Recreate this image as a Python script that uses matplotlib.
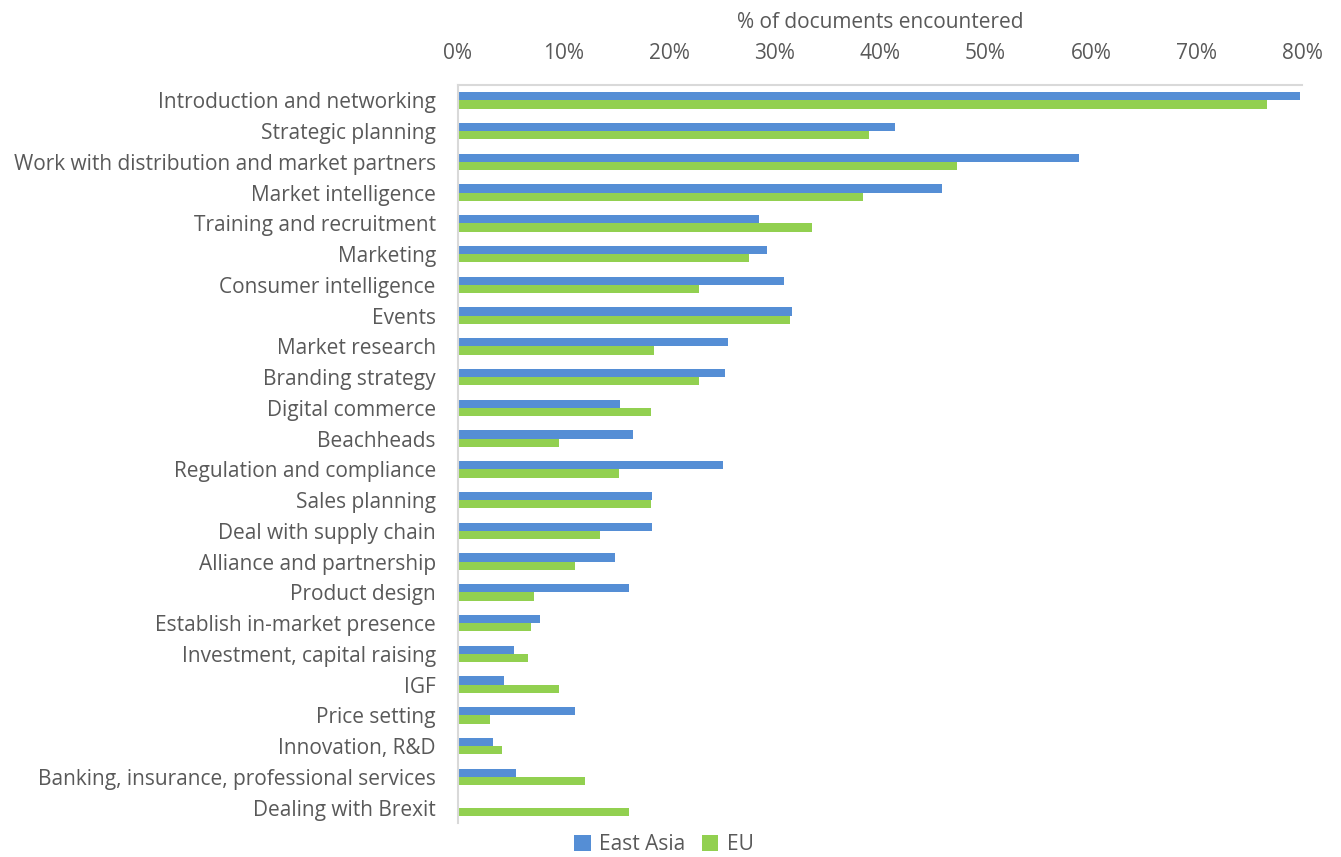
import matplotlib
matplotlib.use("Agg")
import matplotlib.pyplot as plt
import numpy as np
from matplotlib.ticker import PercentFormatter

categories = [
    "Introduction and networking", "Strategic planning",
    "Work with distribution and market partners", "Market intelligence",
    "Training and recruitment", "Marketing", "Consumer intelligence", "Events",
    "Market research", "Branding strategy", "Digital commerce", "Beachheads",
    "Regulation and compliance", "Sales planning", "Deal with supply chain",
    "Alliance and partnership", "Product design", "Establish in-market presence",
    "Investment, capital raising", "IGF", "Price setting", "Innovation, R&D",
    "Banking, insurance, professional services", "Dealing with Brexit",
]
east_asia = [79.8, 41.4, 58.9, 45.9, 28.5, 29.3, 30.9, 31.7, 25.6, 25.3, 15.4, 16.6,
             25.1, 18.4, 18.4, 14.9, 16.2, 7.8, 5.3, 4.4, 11.1, 3.3, 5.5, 0.0]
eu = [76.7, 39.0, 47.3, 38.4, 33.6, 27.6, 22.8, 31.5, 18.6, 22.8, 18.3, 9.6,
      15.3, 18.3, 13.5, 11.1, 7.2, 6.9, 6.6, 9.6, 3.0, 4.2, 12.0, 16.2]
xticks = [0, 10, 20, 30, 40, 50, 60, 70, 80]
series_names = ["East Asia", "EU"]

plt.rcParams['font.family'] = ['Open Sans', 'DejaVu Sans']
text_color = "#595959"
fs = 15

fig = plt.figure(figsize=(13.41, 8.57), dpi=100)
ax = fig.add_axes([458/1341, 1 - 823/857, (1302-458)/1341, (823-85)/857])

y = np.arange(len(categories))
h = 0.27
ax.barh(y - h/2, east_asia, height=h, color="#558ED5", label=series_names[0])
ax.barh(y + h/2, eu, height=h, color="#92D050", label=series_names[1])

ax.set_ylim(len(categories) - 0.5, -0.5)
ax.set_xlim(0, 80)
ax.set_yticks(y)
ax.set_yticklabels(categories, fontsize=fs, color=text_color)
ax.set_xticks(xticks)
ax.xaxis.set_major_formatter(PercentFormatter(decimals=0))
ax.xaxis.tick_top()
ax.xaxis.set_label_position("top")
ax.tick_params(axis='x', labelsize=fs, labelcolor=text_color, length=0, pad=15)
ax.tick_params(axis='y', length=0, pad=16)
ax.set_xlabel("% of documents encountered", fontsize=fs, color=text_color, labelpad=11)

for s in ["right", "bottom"]:
    ax.spines[s].set_visible(False)
for s in ["left", "top"]:
    ax.spines[s].set_color("#D9D9D9")
    ax.spines[s].set_linewidth(1.5)

leg = fig.legend(loc="center", bbox_to_anchor=(0.495, 1 - 845/857), ncol=2, frameon=False,
                 fontsize=fs, handlelength=0.8, handleheight=0.8, columnspacing=0.8,
                 handletextpad=0.4, borderpad=0)
for t in leg.get_texts():
    t.set_color(text_color)

fig.savefig("out.png", dpi=100)
